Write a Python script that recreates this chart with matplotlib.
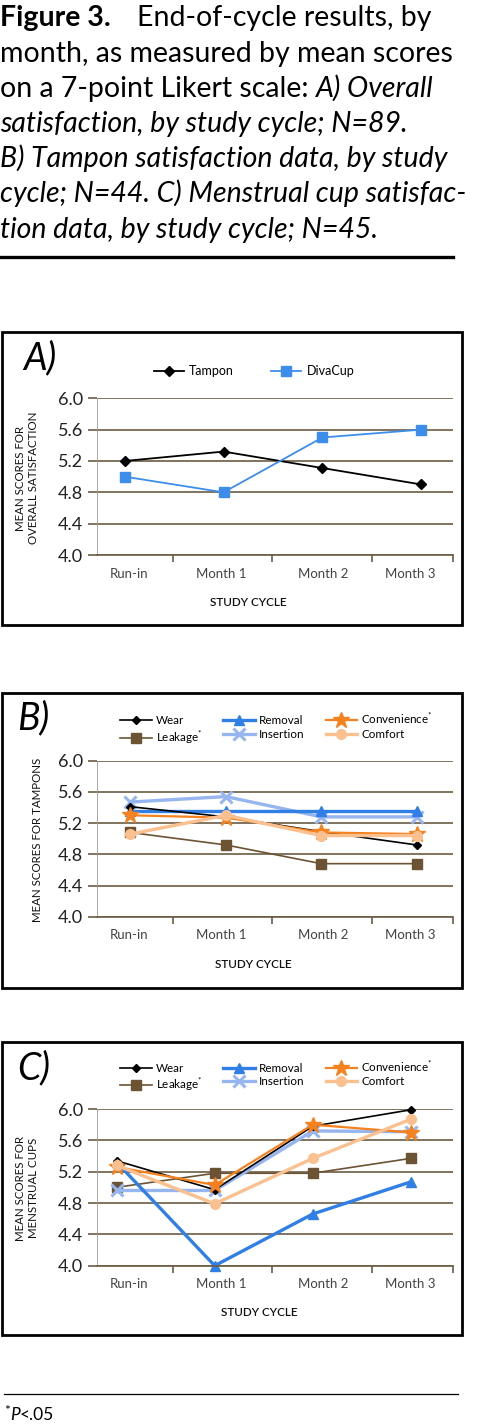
import numpy as np
import matplotlib
matplotlib.use("Agg")
import matplotlib.pyplot as plt
from matplotlib.lines import Line2D
from matplotlib.patches import Rectangle

plt.rcParams["font.family"] = ["Lato", "DejaVu Sans"]
plt.rcParams["mathtext.fontset"] = "custom"
plt.rcParams["mathtext.rm"] = "Lato"

W, H = 495, 1425

cycles = ["Run-in", "Month 1", "Month 2", "Month 3"]
y_ticks = [4.0, 4.4, 4.8, 5.2, 5.6, 6.0]

# A) overall satisfaction
tampon_overall = [5.20, 5.32, 5.11, 4.90]
divacup_overall = [5.00, 4.80, 5.50, 5.60]

# B) tampon
tampon_wear = [5.41, 5.28, 5.09, 4.92]
tampon_removal = [5.35, 5.35, 5.35, 5.35]
tampon_convenience = [5.30, 5.27, 5.08, 5.06]
tampon_leakage = [5.08, 4.92, 4.68, 4.68]
tampon_insertion = [5.47, 5.54, 5.28, 5.28]
tampon_comfort = [5.06, 5.30, 5.04, 5.04]

# C) menstrual cup
cup_wear = [5.34, 4.97, 5.78, 5.99]
cup_removal = [5.32, 4.00, 4.66, 5.07]
cup_convenience = [5.26, 5.03, 5.80, 5.70]
cup_leakage = [5.00, 5.18, 5.18, 5.37]
cup_insertion = [4.96, 4.96, 5.72, 5.71]
cup_comfort = [5.28, 4.79, 5.37, 5.87]

GRID = "#6b5b43"
BLACK = "#000000"
BLUE = "#2f7fe6"
ORANGE = "#f5821f"
BROWN = "#6b5334"
LIGHTBLUE = "#97b5ef"
PEACH = "#fbc08f"
DIVA = "#3d8eea"

fig = plt.figure(figsize=(W / 100, H / 100), dpi=100)
renderer = fig.canvas.get_renderer()


def fx(x):
    return x / W


def fy(y):
    return 1 - y / H


def runs(x, y, parts, size, va="baseline"):
    # write text pieces one after another on one line
    for text, kw in parts:
        if text is None:
            x += kw
            continue
        opts = dict(fontsize=size, va=va, ha="left")
        opts.update(kw)
        dy = opts.pop("dy", 0)
        t = fig.text(fx(x), fy(y - dy), text, **opts)
        x += t.get_window_extent(renderer).width


# title
TS = 20.5
runs(0, 26, [("Figure 3.", dict(fontweight="bold")), (None, 26),
             ("End-of-cycle results, by", {})], TS)
runs(0, 62, [("month, as measured by mean scores", {})], TS)
runs(0, 97, [("on a 7-point Likert scale: ", {}), ("A) Overall", dict(style="italic"))], TS)
runs(0, 132, [("satisfaction, by study cycle; N=89.", dict(style="italic"))], TS)
runs(0, 167, [("B) Tampon satisfaction data, by study", dict(style="italic"))], TS)
runs(0, 202, [("cycle; N=44. C) Menstrual cup satisfac-", dict(style="italic"))], TS)
runs(0, 238, [("tion data, by study cycle; N=45.", dict(style="italic"))], TS)
fig.add_artist(Line2D([fx(0), fx(453)], [fy(257), fy(257)], color="black", lw=2.4))

# panel frames
for top, bottom in [(332, 625), (693, 988), (1042, 1335)]:
    fig.add_artist(Rectangle((fx(2), fy(bottom)), fx(460), (bottom - top) / H,
                             fill=False, edgecolor="black", lw=2.0))

tick_fracs = [0.2135, 0.4916, 0.7725, 1.0]
label_fracs = [0.09, 0.348, 0.635, 0.879]


def make_axes(top, bottom, xlim):
    ax = fig.add_axes([fx(97), fy(bottom), fx(453) - fx(97), (bottom - top) / H])
    lo, hi = xlim
    ax.set_xlim(lo, hi)
    ax.set_ylim(4.0, 6.0)
    ax.set_yticks(y_ticks)
    ax.set_yticklabels([f"{v:.1f}" for v in y_ticks], fontsize=13, color="#222222")
    ax.set_xticks([lo + f * (hi - lo) for f in label_fracs])
    ax.set_xticklabels(cycles, fontsize=9.5, color="#444444")
    ax.set_xticks([lo + f * (hi - lo) for f in tick_fracs], minor=True)
    ax.tick_params(axis="x", which="major", length=0, pad=9)
    ax.tick_params(axis="x", which="minor", length=5, width=1.2, color=GRID, direction="out")
    ax.tick_params(axis="y", length=6.5, width=1.2, color=GRID, pad=3.5)
    ax.grid(axis="y", color=GRID, lw=1.2)
    for s in ["top", "bottom"]:
        ax.spines[s].set_color(GRID)
        ax.spines[s].set_linewidth(1.2)
    ax.spines["top"].set_visible(False)
    ax.spines["right"].set_visible(False)
    ax.spines["left"].set_color("#999999")
    ax.spines["left"].set_linewidth(0.6)
    ax.set_axisbelow(True)
    return ax


x = np.arange(len(cycles))

# ---- A
axA = make_axes(398.3, 555, (-0.28, 3.32))
axA.plot(x, tampon_overall, color=BLACK, lw=1.3, marker="D", ms=5.5, label="Tampon", clip_on=False)
axA.plot(x, divacup_overall, color=DIVA, lw=1.3, marker="s", ms=6.5, label="DivaCup", clip_on=False)
axA.legend(loc="center left", bbox_to_anchor=(fx(154), fy(371)), bbox_transform=fig.transFigure,
           ncol=2, frameon=False, fontsize=9, borderpad=0, borderaxespad=0, handlelength=2.4,
           handletextpad=0.4, columnspacing=3.0)


def six_lines(ax, wear, removal, conv, leak, ins, comf):
    ax.plot(x, leak, color=BROWN, lw=1.2, marker="s", ms=6.5, label="Leakage$^{*}$", clip_on=False)
    ax.plot(x, ins, color=LIGHTBLUE, lw=2.4, marker="x", ms=9, mew=2.2, label="Insertion", clip_on=False)
    ax.plot(x, removal, color=BLUE, lw=2.4, marker="^", ms=7, label="Removal", clip_on=False)
    ax.plot(x, wear, color=BLACK, lw=1.2, marker="D", ms=4.5, label="Wear", clip_on=False)
    ax.plot(x, conv, color=ORANGE, lw=1.6, marker="*", ms=12, label="Convenience$^{*}$", clip_on=False)
    ax.plot(x, comf, color=PEACH, lw=2.4, marker="o", ms=7, label="Comfort", clip_on=False)
    h, l = ax.get_legend_handles_labels()
    order = [3, 0, 2, 1, 4, 5]
    return [h[i] for i in order], [l[i] for i in order]


def six_legend(ax, h, l, yc):
    ax.legend(h, l, loc="center left", bbox_to_anchor=(fx(120), fy(yc)),
              bbox_transform=fig.transFigure, ncol=3, frameon=False, fontsize=8.4,
              borderpad=0, borderaxespad=0, handlelength=2.7, handletextpad=0.35,
              columnspacing=1.8, labelspacing=0.2)


# ---- B
axB = make_axes(760.7, 916.7, (-0.35, 3.38))
h, l = six_lines(axB, tampon_wear, tampon_removal, tampon_convenience,
                 tampon_leakage, tampon_insertion, tampon_comfort)
six_legend(axB, h, l, 728.5)

# ---- C
axC = make_axes(1109, 1265.7, (-0.20, 3.43))
h, l = six_lines(axC, cup_wear, cup_removal, cup_convenience,
                 cup_leakage, cup_insertion, cup_comfort)
six_legend(axC, h, l, 1076)

# panel letters, axis titles
for lab, xx, yy in [("A)", 23, 358), ("B)", 17, 718), ("C)", 17, 1068)]:
    fig.text(fx(xx), fy(yy), lab, fontsize=27, style="italic", va="center", ha="left")

for xx, yy in [(248, 602), (253, 964), (259, 1313)]:
    fig.text(fx(xx), fy(yy), "STUDY CYCLE", fontsize=8.5, ha="center", va="center",
             color="#111111", fontweight="semibold")

for txt, xx, yy in [("MEAN SCORES FOR\nOVERALL SATISFACTION", 27, 478),
                    ("MEAN SCORES FOR TAMPONS", 38, 840),
                    ("MEAN SCORES FOR\nMENSTRUAL CUPS", 27, 1188)]:
    fig.text(fx(xx), fy(yy), txt, fontsize=8.3, rotation=90, ha="center", va="center",
             linespacing=1.15, color="#111111")

# footnote
fig.add_artist(Line2D([fx(4), fx(458)], [fy(1394), fy(1394)], color="black", lw=0.9))
runs(4, 1420, [("*", dict(fontsize=10, dy=5)), ("P", dict(style="italic")), ("<.05", {})], 12.5)

fig.savefig("out.png", dpi=100)
